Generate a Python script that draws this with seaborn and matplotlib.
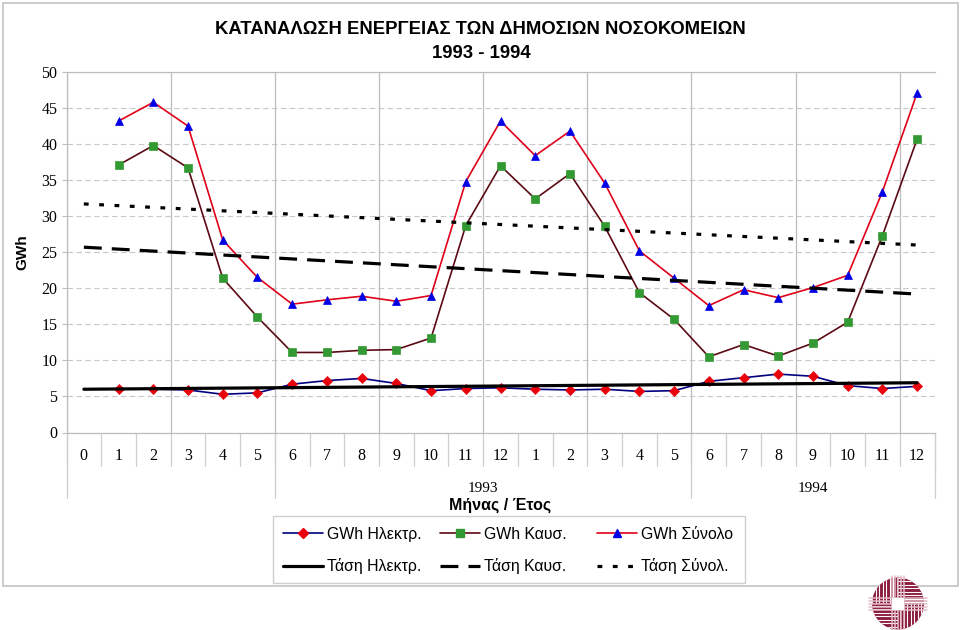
import numpy as np
import pandas as pd
import matplotlib
matplotlib.use("Agg")
import matplotlib.pyplot as plt
import seaborn as sns
from matplotlib.lines import Line2D
from matplotlib.patches import Wedge, Rectangle

month_labels = ["0", "1", "2", "3", "4", "5", "6", "7", "8", "9", "10", "11", "12",
                "1", "2", "3", "4", "5", "6", "7", "8", "9", "10", "11", "12"]
# first category is the empty "0" slot, the series start at the next one
gwh_elec = [None, 6.1, 6.0, 5.9, 5.3, 5.5, 6.7, 7.2, 7.5, 6.8, 5.8, 6.1, 6.2,
            6.0, 5.9, 6.0, 5.7, 5.8, 7.1, 7.6, 8.1, 7.8, 6.5, 6.1, 6.4]
gwh_fuel = [None, 37.1, 39.8, 36.7, 21.4, 16.0, 11.1, 11.1, 11.4, 11.5, 13.1, 28.7, 37.0,
            32.4, 35.9, 28.6, 19.4, 15.7, 10.5, 12.2, 10.6, 12.4, 15.3, 27.3, 40.7]
gwh_total = [None, 43.2, 45.8, 42.5, 26.7, 21.5, 17.8, 18.4, 18.9, 18.2, 19.0, 34.8, 43.2,
             38.4, 41.8, 34.6, 25.2, 21.4, 17.6, 19.8, 18.7, 20.1, 21.8, 33.4, 47.1]
trend_x = [0, 24]
trend_elec = [6.0, 6.9]
trend_fuel = [25.7, 19.2]
trend_total = [31.7, 26.0]
y_ticks = [0, 5, 10, 15, 20, 25, 30, 35, 40, 45, 50]
year_labels = ["1993", "1994"]

sns.set_theme(style="white")
plt.rcParams["font.family"] = ["Liberation Sans", "DejaVu Sans"]
SERIF = ["Liberation Serif", "DejaVu Serif"]
GRID = "#bdbdbd"
LONG_DASH = (0, (5.6, 3.15))
SHORT_DASH = (0, (1.5, 3.3))

W, H = 960, 630
L, R, T, B = 66.5, 934.5, 72, 432.5

fig = plt.figure(figsize=(W / 100, H / 100), dpi=100)

# background layer in pixels: chart frame, legend box and logo
bg = fig.add_axes([0, 0, 1, 1], zorder=0)
bg.set_xlim(0, W)
bg.set_ylim(H, 0)
bg.axis("off")
bg.add_patch(Rectangle((2.5, 2.5), 955, 583.5, fc="white", ec="#c4c4c4", lw=1.2))
bg.add_patch(Rectangle((272.5, 515.5), 472, 67.5, fc="white", ec="#cfcfcf", lw=1))

ax = fig.add_axes([L / W, 1 - B / H, (R - L) / W, (B - T) / H], zorder=2)
ax.patch.set_alpha(0)

df = pd.DataFrame({"pos": np.arange(len(month_labels)), "elec": gwh_elec,
                   "fuel": gwh_fuel, "total": gwh_total}).astype(float)

for col, line_c, mark, mark_c, ms in [("elec", "#000080", "D", "#e8000b", 4.6),
                                      ("fuel", "#5c0a14", "s", "#339933", 6),
                                      ("total", "#e0001a", "^", "#0000e6", 6)]:
    sns.lineplot(data=df, x="pos", y=col, ax=ax, color=line_c, lw=1.2, marker=mark,
                 markersize=ms, markerfacecolor=mark_c, markeredgecolor=mark_c,
                 markeredgewidth=0.5, errorbar=None, zorder=3)

sns.lineplot(x=trend_x, y=trend_elec, ax=ax, color="black", lw=2.3, errorbar=None, zorder=4)
sns.lineplot(x=trend_x, y=trend_fuel, ax=ax, color="black", lw=2.3, errorbar=None, zorder=4,
             dashes=False, linestyle=LONG_DASH)
sns.lineplot(x=trend_x, y=trend_total, ax=ax, color="black", lw=2.3, errorbar=None, zorder=4,
             dashes=False, linestyle=SHORT_DASH)

ax.set_xlim(-0.5, 24.5)
ax.set_ylim(0, 50)
ax.set_xlabel("")
ax.set_ylabel("")
ax.set_yticks(y_ticks)
ax.set_xticks(df["pos"])
ax.set_xticklabels(month_labels, fontsize=11.5, family=SERIF, color="black")
ax.set_yticklabels([str(v) for v in y_ticks], fontsize=11.5, family=SERIF, color="black")
ax.tick_params(axis="x", length=0, pad=11)
ax.tick_params(axis="y", length=3.5, width=0.8, color=GRID, pad=3, left=True)

ax.yaxis.grid(True, color="#c8c8c8", ls=(0, (5, 3)), lw=0.8)
ax.set_axisbelow(True)
for s in ["top", "left", "bottom"]:
    ax.spines[s].set_color(GRID)
    ax.spines[s].set_linewidth(0.9)
ax.spines["right"].set_visible(False)

# multi-level axis lines below the plot, drawn in axes-height units
h = B - T
tr = ax.get_xaxis_transform()
short = -(466 - B) / h
tall = -(498 - B) / h
for i in range(len(month_labels) + 1):
    x = i - 0.5
    ax.add_line(Line2D([x, x], [0, short], transform=tr, color="#cfcfcf", lw=0.9, clip_on=False))
    if i % 3 == 0:
        ax.add_line(Line2D([x, x], [0, 1], transform=tr, color=GRID, lw=0.9))
for x in [-0.5, 5.5, 17.5, 24.5]:
    ax.add_line(Line2D([x, x], [0, tall], transform=tr, color="#cfcfcf", lw=0.9, clip_on=False))

bg.text(483, 488.5, year_labels[0], ha="center", va="center", fontsize=11, family=SERIF, color="black")
bg.text(813, 488.5, year_labels[1], ha="center", va="center", fontsize=11, family=SERIF, color="black")
bg.text(500, 505, "Μήνας / Έτος", ha="center", va="center", fontsize=11.5, weight="bold", color="black")
bg.text(480, 30, "ΚΑΤΑΝΑΛΩΣΗ ΕΝΕΡΓΕΙΑΣ ΤΩΝ ΔΗΜΟΣΙΩΝ ΝΟΣΟΚΟΜΕΙΩΝ", ha="center", va="center",
        fontsize=13.35, weight="bold", color="black")
bg.text(481, 54, "1993 - 1994", ha="center", va="center", fontsize=13.35, weight="bold", color="black")
bg.text(22, 252, "GWh", ha="center", va="center", rotation=90, fontsize=11, weight="bold", color="black")

# one legend per column, the reference has equal column widths
legend_columns = [
    (283, [Line2D([], [], color="#000080", lw=1.2, marker="D", ms=4.6, mfc="#e8000b", mec="#e8000b"),
           Line2D([], [], color="black", lw=2.3)], ["GWh Ηλεκτρ.", "Τάση Ηλεκτρ."]),
    (440, [Line2D([], [], color="#5c0a14", lw=1.2, marker="s", ms=6, mfc="#339933", mec="#339933"),
           Line2D([], [], color="black", lw=2.3, ls=LONG_DASH)], ["GWh Καυσ.", "Τάση Καυσ."]),
    (597, [Line2D([], [], color="#e0001a", lw=1.2, marker="^", ms=6, mfc="#0000e6", mec="#0000e6"),
           Line2D([], [], color="black", lw=2.3, ls=SHORT_DASH)], ["GWh Σύνολο", "Τάση Σύνολ."]),
]
for left, handles, names in legend_columns:
    leg = fig.legend(handles, names, loc="lower left",
                     bbox_to_anchor=(left / W, 1 - 574.5 / H), bbox_transform=fig.transFigure,
                     frameon=False, fontsize=11.4, handlelength=2.5, handletextpad=0.25,
                     labelspacing=1.05, borderpad=0, borderaxespad=0, labelcolor="black")
    leg.set_zorder(3)

# hospital logo: four striped quarter discs around a white cross
cx, cy, rad = 898, 603.5, 26
maroon = "#8a1c3c"
for theta1, vertical in [(180, True), (270, False), (90, False), (0, True)]:
    wedge = Wedge((cx, cy), rad, theta1, theta1 + 90, fc=maroon, ec="none", zorder=1)
    bg.add_patch(wedge)
    for off in np.arange(-rad, rad + 1, 3.5):
        if vertical:
            ln, = bg.plot([cx + off, cx + off], [cy - rad, cy + rad], color="white", lw=0.8, zorder=2)
        else:
            ln, = bg.plot([cx - rad, cx + rad], [cy + off, cy + off], color="white", lw=0.8, zorder=2)
        ln.set_clip_path(wedge)
for off in [-6, -3, 0, 3, 6]:
    bg.plot([cx + off, cx + off], [cy - 28, cy + 26], color="#e3bcc8", lw=1.1, zorder=2.5)
    bg.plot([cx - 29, cx + 29], [cy + off, cy + off], color="#e3bcc8", lw=1.1, zorder=2.5)
bg.add_patch(Rectangle((cx - 6, cy - 6), 12, 12, fc="white", ec="none", zorder=3))

fig.savefig("out.png", dpi=100)
